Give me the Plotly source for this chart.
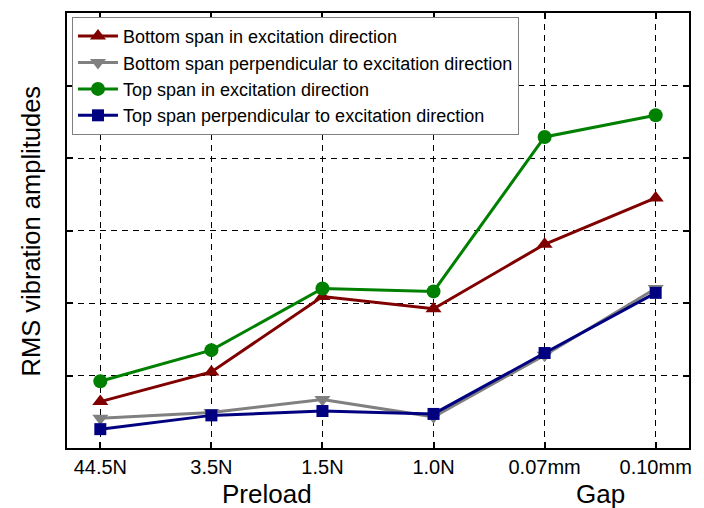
import plotly.graph_objects as go

# Test conditions (preload levels, then gap sizes)
categories = ["44.5N", "3.5N", "1.5N", "1.0N", "0.07mm", "0.10mm"]

# RMS vibration amplitudes per measurement location
bottom_in_dir = [0.64, 1.05, 2.09, 1.92, 2.81, 3.45]
bottom_perp = [0.41, 0.49, 0.67, 0.43, 1.28, 2.20]
top_in_dir = [0.92, 1.35, 2.20, 2.16, 4.29, 4.59]
top_perp = [0.26, 0.45, 0.51, 0.47, 1.31, 2.14]

series_names = [
    "Bottom span in excitation direction",
    "Bottom span perpendicular to excitation direction",
    "Top span in excitation direction",
    "Top span perpendicular to excitation direction",
]
group_labels = ["Preload", "Gap"]
group_centers = [1.5, 4.5]

x = list(range(len(categories)))
FONT = "Liberation Sans, Arial, sans-serif"

styles = [
    (bottom_in_dir, "#800000", "triangle-up", 14),
    (bottom_perp, "#808080", "triangle-down", 14),
    (top_in_dir, "#008000", "circle", 14),
    (top_perp, "#000080", "square", 12),
]

fig = go.Figure()
for name, (vals, color, symbol, msize) in zip(series_names, styles):
    fig.add_trace(go.Scatter(
        x=x, y=vals, name=name, mode="lines+markers",
        line=dict(color=color, width=3),
        marker=dict(symbol=symbol, size=msize, color=color),
    ))

axis_common = dict(
    showline=True, linewidth=2, linecolor="black", mirror="allticks",
    ticks="inside", ticklen=6, tickwidth=1.5, tickcolor="black",
    showgrid=True, gridcolor="black", gridwidth=1.3, griddash="6px,5px",
    zeroline=False,
)

fig.update_xaxes(
    range=[-0.3, 5.3], tickvals=x, ticktext=categories,
    tickfont=dict(family=FONT, size=20, color="black"),
    **axis_common,
)
fig.update_yaxes(
    range=[0, 6], dtick=1, showticklabels=False,
    **axis_common,
)

for lbl, cx in zip(group_labels, group_centers):
    fig.add_annotation(
        x=cx, xref="x", y=-0.105, yref="paper", text=lbl, showarrow=False,
        xanchor="center", yanchor="middle",
        font=dict(family=FONT, size=26, color="black"),
    )

fig.add_annotation(
    x=-0.058, xref="paper", y=0.5, yref="paper",
    text="RMS vibration amplitudes", textangle=-90, showarrow=False,
    xanchor="center", yanchor="middle",
    font=dict(family=FONT, size=25.5, color="black"),
)

fig.update_layout(
    width=704, height=508,
    margin=dict(l=67, r=15, t=11, b=60),
    paper_bgcolor="white", plot_bgcolor="white",
    showlegend=True,
    legend=dict(
        x=0.008, y=0.991, xanchor="left", yanchor="top",
        bgcolor="white", bordercolor="#808080", borderwidth=1,
        font=dict(family=FONT, size=18, color="black"),
        tracegroupgap=0, itemwidth=40,
    ),
)

fig.write_html("out.html")
